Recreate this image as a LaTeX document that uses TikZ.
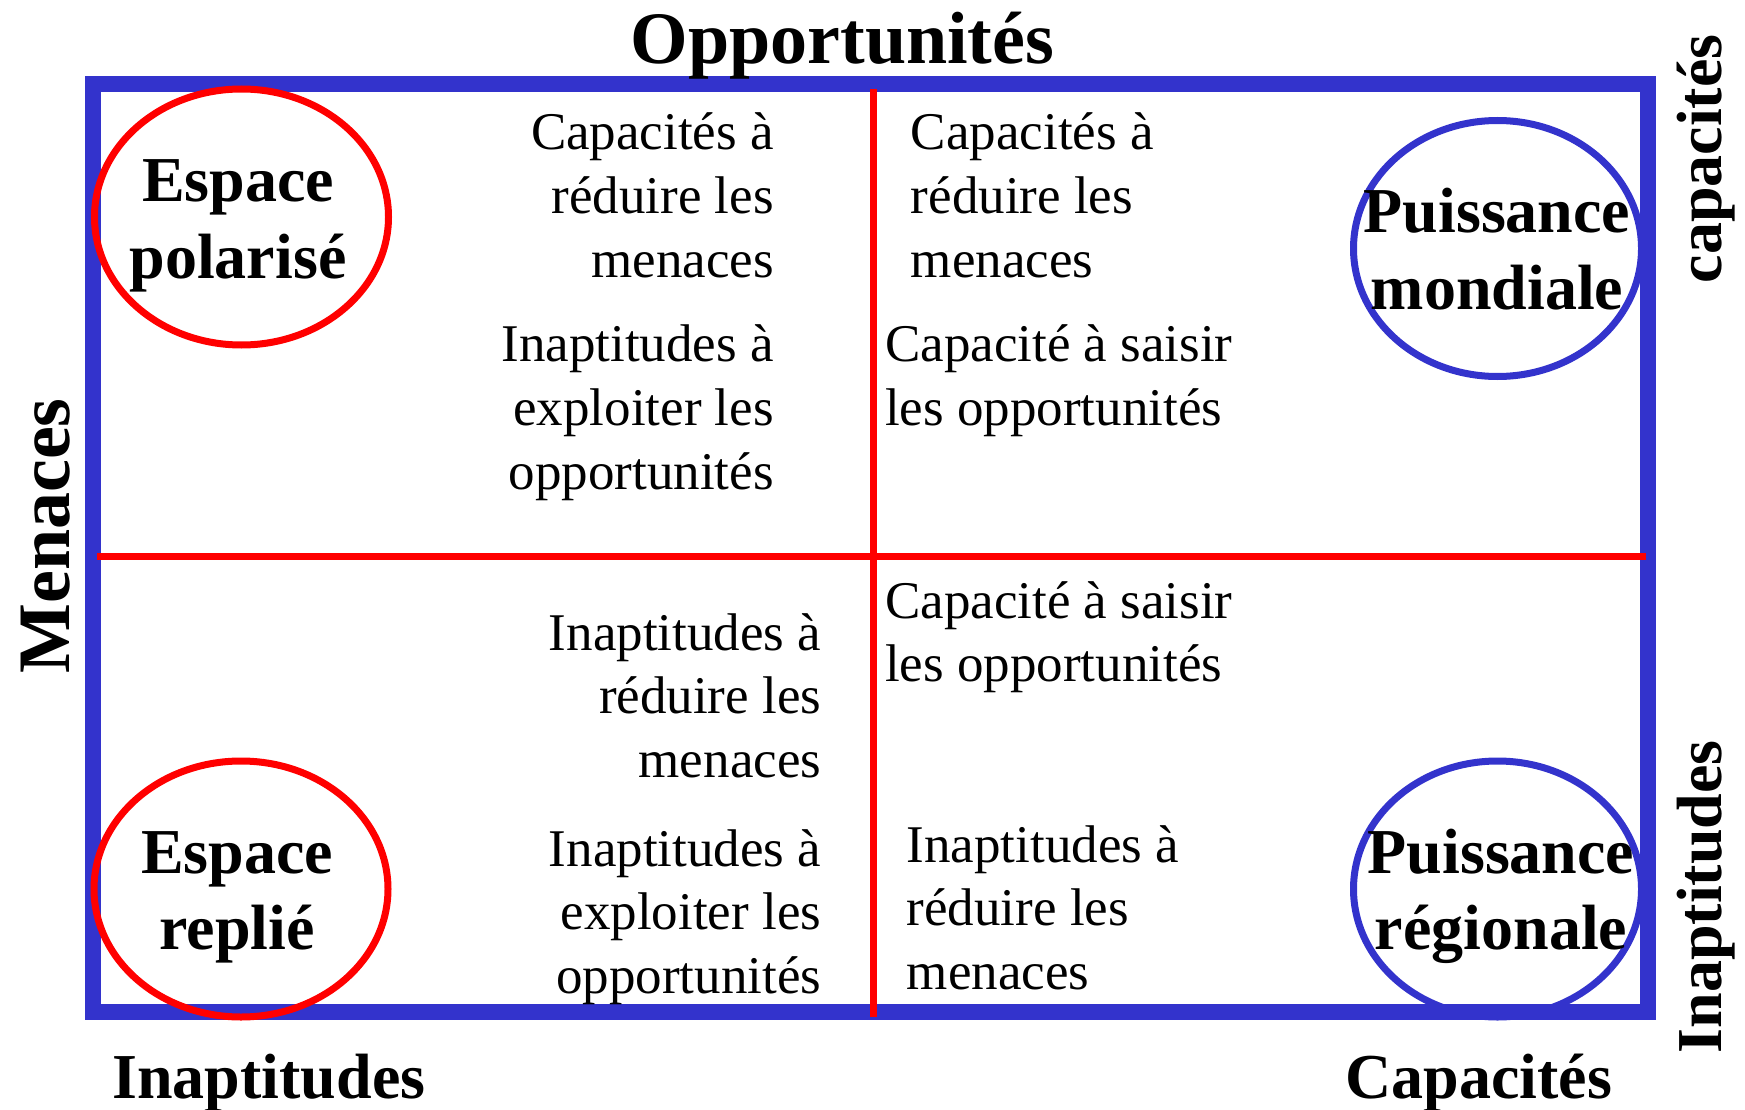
\documentclass[tikz,border=0pt]{standalone}
\usepackage{fontspec}
\setmainfont{Liberation Serif}
\usetikzlibrary{shapes.geometric}
\definecolor{frameblue}{RGB}{51,51,204}
\definecolor{axisred}{RGB}{255,0,0}
\newcommand{\blockR}[1]{\begin{tabular}[t]{@{}r@{}}#1\end{tabular}}
\newcommand{\blockL}[1]{\begin{tabular}[t]{@{}l@{}}#1\end{tabular}}
\newcommand{\blockC}[1]{\begin{tabular}[t]{@{}c@{}}#1\end{tabular}}
\begin{document}
\begin{tikzpicture}[x=1pt,y=-1pt,
  body/.style={font=\fontsize{53}{63.7}\selectfont, inner sep=0pt},
  bodyR/.style={body, anchor=base east},
  bodyL/.style={body, anchor=base west},
  bubbletext/.style={font=\fontsize{64}{76.5}\selectfont\bfseries, inner sep=0pt, anchor=base},
  axislabel/.style={font=\fontsize{64}{76.8}\selectfont\bfseries, inner sep=0pt, anchor=base},
  bigaxis/.style={font=\fontsize{74}{88}\selectfont\bfseries, inner sep=0pt, anchor=base},
  frame/.style={draw=frameblue, line width=16pt},
  divider/.style={draw=axisred, line width=7pt},
  redring/.style={ellipse, draw=axisred, line width=7pt, minimum width=294pt, minimum height=256pt, inner sep=0pt},
  bluering/.style={ellipse, draw=frameblue, line width=7pt, minimum width=288pt, minimum height=256pt, inner sep=0pt}]
\useasboundingbox (0,0) rectangle (1745,1110);
% frame
\coordinate (fTL) at (93,84);
\coordinate (fBR) at (1648,1012);
\draw[frame] (fTL) rectangle (fBR);
% dividers
\coordinate (vTop) at (873,89);
\coordinate (vBot) at (873,1017);
\coordinate (hLeft) at (97,556);
\coordinate (hRight) at (1646,556);
\draw[divider] (vTop) -- (vBot);
\draw[divider] (hLeft) -- (hRight);
% rings
\node[redring] (ringTL) at (241.5,217) {};
\node[redring] (ringBL) at (241,889) {};
\node[bluering] (ringTR) at (1497.5,248.5) {};
\node[bluering] (ringBR) at (1497.5,889) {};
% ring texts
\node[bubbletext] (tTL) at (238,201.7) {\blockC{Espace\\polarisé}};
\node[bubbletext] (tBL) at (237,873) {\blockC{Espace\\replié}};
\node[bubbletext] (tTR) at (1497,233) {\blockC{Puissance\\mondiale}};
\node[bubbletext] (tBR) at (1501,873) {\blockC{Puissance\\régionale}};
% axis labels
\node[bigaxis] (opp) at (842.5,63.5) {Opportunités};
\node[bigaxis, rotate=90] (men) at (69,536) {Menaces};
\node[axislabel, rotate=90] (capR) at (1721,159) {capacités};
\node[axislabel, rotate=90] (inaR) at (1721,896.7) {Inaptitudes};
\node[axislabel] (inaB) at (269,1098) {Inaptitudes};
\node[axislabel] (capB) at (1478.6,1098) {Capacités};
% quadrant texts
\node[bodyR] (q1a) at (774,150) {\blockR{Capacités à\\réduire les\\menaces}};
\node[bodyR] (q1b) at (774,361.7) {\blockR{Inaptitudes à\\exploiter les\\opportunités}};
\node[bodyL] (q2a) at (910.7,150) {\blockL{Capacités à\\réduire les\\menaces}};
\node[bodyL] (q2b) at (885,361.7) {\blockL{Capacité à saisir\\les opportunités}};
\node[bodyR] (q3a) at (821.4,650) {\blockR{Inaptitudes à\\réduire les\\menaces}};
\node[bodyR] (q3b) at (821.4,866) {\blockR{Inaptitudes à\\exploiter les\\opportunités}};
\node[bodyL] (q4a) at (885,618) {\blockL{Capacité à saisir\\les opportunités}};
\node[bodyL] (q4b) at (906.6,862) {\blockL{Inaptitudes à\\réduire les\\menaces}};
\end{tikzpicture}
\end{document}
